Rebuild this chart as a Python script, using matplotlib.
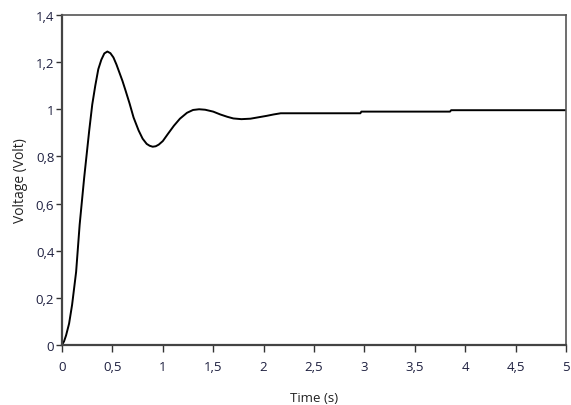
import matplotlib.pyplot as plt

# step response
t = [0.0, 0.02, 0.04, 0.07, 0.10, 0.14, 0.175, 0.22, 0.27, 0.30, 0.33, 0.36,
     0.39, 0.42, 0.45, 0.48, 0.51, 0.54, 0.57, 0.60, 0.63, 0.67, 0.71, 0.76,
     0.80, 0.84, 0.87, 0.90, 0.93, 0.96, 1.00, 1.05, 1.11, 1.17, 1.24, 1.30,
     1.36, 1.42, 1.50, 1.57, 1.64, 1.70, 1.78, 1.87, 1.95, 2.03, 2.10, 2.17,
     2.96, 2.97, 3.85, 3.86, 5.0]
v = [0.0, 0.015, 0.04, 0.09, 0.17, 0.31, 0.51, 0.71, 0.91, 1.02, 1.10, 1.17,
     1.21, 1.237, 1.245, 1.238, 1.22, 1.19, 1.155, 1.12, 1.08, 1.025, 0.965, 0.91,
     0.875, 0.853, 0.845, 0.841, 0.843, 0.85, 0.865, 0.895, 0.93, 0.96, 0.985, 0.997,
     1.0, 0.998, 0.99, 0.978, 0.968, 0.961, 0.958, 0.96, 0.966, 0.972, 0.978, 0.983,
     0.983, 0.99, 0.99, 0.996, 0.996]

xticks = [0, 0.5, 1, 1.5, 2, 2.5, 3, 3.5, 4, 4.5, 5]
yticks = [0, 0.2, 0.4, 0.6, 0.8, 1, 1.2, 1.4]

def lab(x):
    return ('%g' % x).replace('.', ',')

plt.rcParams['font.family'] = ['Open Sans', 'DejaVu Sans']

fig = plt.figure(figsize=(5.71, 4.06), dpi=100)
ax = fig.add_axes([0.1086, 0.148, 0.8826, 0.8126])

ax.plot(t, v, color='black', lw=1.4)

ax.set_xlim(0, 5)
ax.set_ylim(0, 1.4)
txtc = '#1e2040'
ax.set_xticks(xticks)
ax.set_xticklabels([lab(x) for x in xticks], fontsize=9.5, color=txtc)
ax.set_yticks(yticks)
ax.set_yticklabels([lab(y) for y in yticks], fontsize=9.5, color=txtc)
ax.tick_params(axis='x', direction='out', length=5, width=1, color='#333333', pad=6)
ax.tick_params(axis='y', direction='out', length=4, width=1, color='#333333', pad=1.5)

for s in ['left', 'bottom']:
    ax.spines[s].set_linewidth(1.6)
    ax.spines[s].set_color('#444444')
for s in ['top', 'right']:
    ax.spines[s].set_linewidth(1.2)
    ax.spines[s].set_color('#555555')

ax.set_xlabel('Time (s)', fontsize=9.5, color='#222222', labelpad=13)
ax.set_ylabel('Voltage (Volt)', fontsize=10, color='#222222', labelpad=6)

plt.savefig('out.png', dpi=100)
